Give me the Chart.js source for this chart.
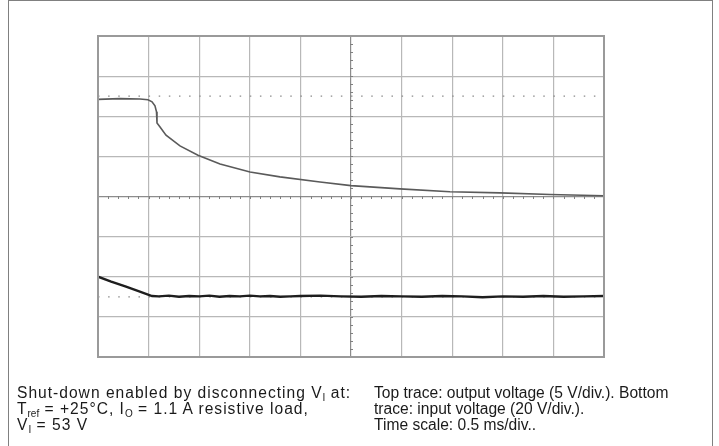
<!DOCTYPE html>
<html>
<head>
<meta charset="utf-8">
<script src="https://cdn.jsdelivr.net/npm/chart.js@4.4.1/dist/chart.umd.min.js"></script>
<style>
  html, body { margin:0; padding:0; background:#fff; }
  #wrap { position:relative; width:719px; height:446px; overflow:hidden; }
  #frame { position:absolute; left:8px; top:0px; width:705px; height:460px;
           border:1.5px solid #808080; box-sizing:border-box; }
  #c { position:absolute; left:0; top:0; }
  .txt { position:absolute; font-family:"Liberation Sans", Arial, sans-serif; font-size:15.6px;
         line-height:16px; color:#1a1a1a; white-space:nowrap; }
  .txt sub { font-size:10px; line-height:0; vertical-align:baseline; position:relative; top:3px; letter-spacing:0; }
  #left { letter-spacing:1px; }
</style>
</head>
<body>
<div id="wrap">
  <div id="frame"></div>
  <canvas id="c" width="719" height="446"></canvas>
  <div class="txt" id="left" style="left:17px; top:385px;">Shut-down enabled by disconnecting V<sub>I</sub> at:<br>T<sub>ref</sub> = +25°C, I<sub>O</sub> = 1.1 A resistive load,<br>V<sub>I</sub> = 53 V</div>
  <div class="txt" id="right" style="left:374px; top:385px;">Top trace: output voltage (5 V/div.). Bottom<br>trace: input voltage (20 V/div.).<br>Time scale: 0.5 ms/div..</div>
</div>
<script>
// time in ms (0.5 ms/div), vertical position in screen divisions (center = 0)
const topTime = [0, 0.217, 0.415, 0.494, 0.534, 0.563, 0.578, 0.583, 0.613, 0.672, 0.810, 0.988, 1.206, 1.502, 1.798, 2.194, 2.5, 2.984, 3.478, 3.972, 4.466, 5.0];
const topDiv  = [2.42, 2.44, 2.43, 2.41, 2.36, 2.26, 2.11, 1.83, 1.73, 1.53, 1.26, 1.03, 0.81, 0.61, 0.49, 0.36, 0.27, 0.19, 0.12, 0.09, 0.05, 0.02];

const bottomTime = [0, 0.13, 0.27, 0.40, 0.534, 0.6, 0.7, 0.8, 0.9, 1.0, 1.1, 1.2, 1.3, 1.4, 1.5, 1.6, 1.7, 1.8, 1.9, 2.0, 2.2, 2.4, 2.6, 2.8, 3.0, 3.2, 3.4, 3.6, 3.8, 4.0, 4.2, 4.4, 4.6, 4.8, 5.0];
const bottomDiv  = [-2.00, -2.12, -2.24, -2.36, -2.48, -2.49, -2.47, -2.50, -2.48, -2.49, -2.47, -2.50, -2.48, -2.49, -2.47, -2.49, -2.48, -2.50, -2.49, -2.48, -2.47, -2.49, -2.50, -2.48, -2.49, -2.50, -2.48, -2.49, -2.51, -2.49, -2.50, -2.48, -2.50, -2.49, -2.48];

const refTopLevel = 2.5;     // upper trace reference marker (divisions)
const refBottomLevel = -2.5; // lower trace reference marker (divisions)
const timeRange = [0, 5];    // 10 divisions of 0.5 ms
const divRange = [-4, 4];    // 8 vertical divisions

const toXY = (xs, ys) => xs.map((x, i) => ({x, y: ys[i]}));

const frameAndTicks = {
  id: 'frameAndTicks',
  afterDatasetsDraw(chart) {
    const {ctx, chartArea: a, scales: {x, y}} = chart;
    ctx.save();
    ctx.strokeStyle = '#808080';
    ctx.lineWidth = 1;
    const y0 = Math.round(y.getPixelForValue(0)) + 0.5;
    for (let t = 0; t <= 5.0001; t += 0.1) {
      const px = Math.round(x.getPixelForValue(t)) + 0.5;
      ctx.beginPath(); ctx.moveTo(px, y0 - 1.5); ctx.lineTo(px, y0 + 1.5); ctx.stroke();
    }
    const x0 = Math.round(x.getPixelForValue(2.5)) + 0.5;
    for (let d = -4; d <= 4.0001; d += 0.2) {
      const py = Math.round(y.getPixelForValue(d)) + 0.5;
      ctx.beginPath(); ctx.moveTo(x0 - 1.5, py); ctx.lineTo(x0 + 1.5, py); ctx.stroke();
    }
    ctx.strokeStyle = '#9a9a9a';
    ctx.lineWidth = 2;
    ctx.strokeRect(a.left, a.top, a.right - a.left, a.bottom - a.top);
    ctx.restore();
  }
};

new Chart(document.getElementById('c'), {
  type: 'line',
  data: {
    datasets: [
      { data: toXY(timeRange, [refTopLevel, refTopLevel]), borderColor: '#8a8a8a', borderWidth: 1.2,
        borderDash: [1.5, 8.62], pointRadius: 0, order: 3 },
      { data: toXY(timeRange, [refBottomLevel, refBottomLevel]), borderColor: '#8a8a8a', borderWidth: 1.2,
        borderDash: [1.5, 8.62], pointRadius: 0, order: 3 },
      { data: toXY(topTime, topDiv), borderColor: '#5a5a5a', borderWidth: 1.6, pointRadius: 0,
        tension: 0, order: 1 },
      { data: toXY(bottomTime, bottomDiv), borderColor: '#1e1e1e', borderWidth: 2.4, pointRadius: 0,
        tension: 0, order: 2 }
    ]
  },
  options: {
    responsive: false,
    animation: false,
    events: [],
    layout: { padding: { left: 98, top: 36, right: 115, bottom: 89 } },
    plugins: { legend: { display: false }, tooltip: { enabled: false } },
    scales: {
      x: {
        type: 'linear', min: timeRange[0], max: timeRange[1],
        ticks: { display: false, stepSize: 0.5 },
        grid: { drawTicks: false, color: ctx => ctx.tick && Math.abs(ctx.tick.value - 2.5) < 1e-6 ? '#8c8c8c' : '#b8b8b8', lineWidth: 1.2 },
        border: { display: false }
      },
      y: {
        type: 'linear', min: divRange[0], max: divRange[1],
        ticks: { display: false, stepSize: 1 },
        grid: { drawTicks: false, color: ctx => ctx.tick && Math.abs(ctx.tick.value) < 1e-6 ? '#8c8c8c' : '#b8b8b8', lineWidth: 1.2 },
        border: { display: false }
      }
    }
  },
  plugins: [frameAndTicks]
});
</script>
</body>
</html>
